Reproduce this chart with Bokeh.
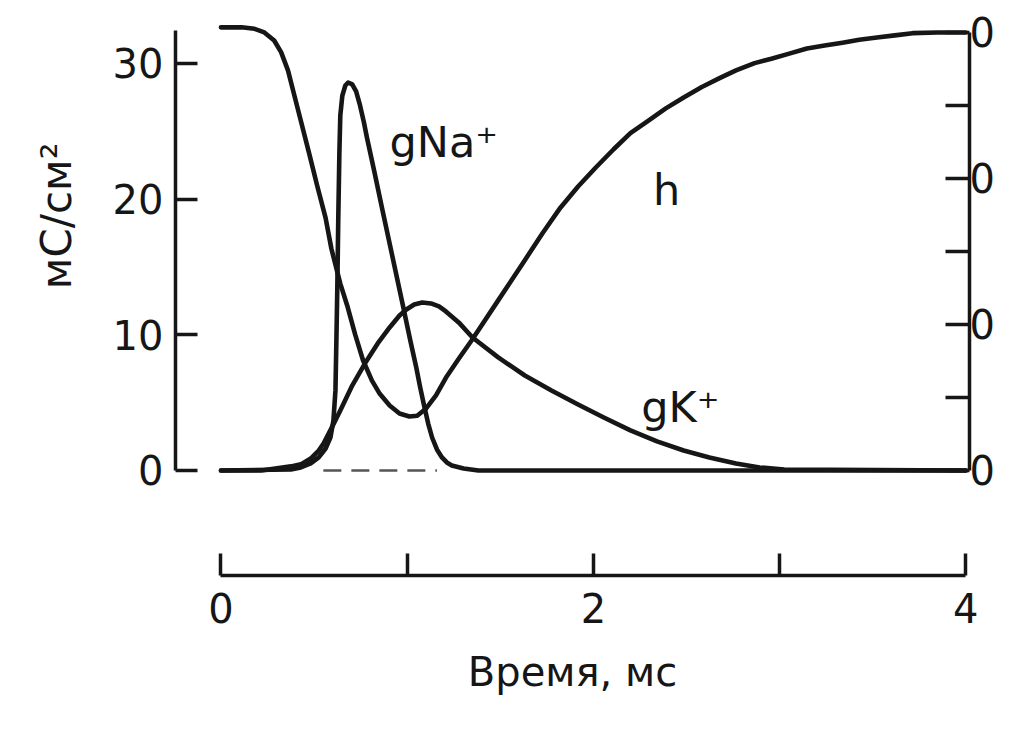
from bokeh.plotting import figure
from bokeh.models import Range1d, LinearAxis, FixedTicker, Title
from bokeh.core.properties import value
from bokeh.embed import file_html
from bokeh.resources import INLINE

# ---- data (time in ms) ----
gna_t = [0.0, 0.376, 0.429, 0.482, 0.525, 0.562, 0.588, 0.604, 0.615, 0.620, 0.625,
         0.630, 0.636, 0.641, 0.652, 0.668, 0.683, 0.705, 0.726, 0.747, 0.768, 0.784,
         0.826, 0.869, 0.922, 0.975, 1.017, 1.049, 1.070, 1.091, 1.113, 1.134, 1.160,
         1.187, 1.213, 1.240, 1.303, 1.383, 4.0]
gna_v = [0.0, 0.07, 0.22, 0.52, 0.96, 1.62, 2.43, 3.68, 5.90, 9.58, 13.49,
         18.42, 23.36, 26.16, 27.63, 28.37, 28.59, 28.45, 27.93, 26.90, 25.64, 24.54,
         21.89, 19.09, 15.70, 12.31, 9.58, 7.59, 6.12, 4.79, 3.46, 2.43, 1.55,
         0.96, 0.59, 0.37, 0.15, 0.0, 0.0]

gk_t = [0.0, 0.217, 0.376, 0.429, 0.482, 0.525, 0.551, 0.593, 0.641, 0.705, 0.773,
        0.842, 0.906, 0.959, 0.996, 1.038, 1.081, 1.128, 1.171, 1.208, 1.277, 1.351,
        1.489, 1.632, 1.775, 1.918, 2.056, 2.199, 2.342, 2.485, 2.623, 2.766, 2.893,
        3.025, 4.0]
gk_v = [0.0, 0.0, 0.3, 0.45, 0.88, 1.47, 1.99, 3.10, 4.42, 6.26, 7.88,
        9.36, 10.54, 11.42, 11.86, 12.23, 12.38, 12.31, 12.09, 11.72, 10.91, 9.80,
        8.33, 7.00, 5.90, 4.86, 3.90, 2.95, 2.14, 1.47, 0.96, 0.52, 0.22,
        0.07, 0.0]

h_t = [0.0, 0.111, 0.180, 0.233, 0.286, 0.323, 0.360, 0.392, 0.429, 0.472, 0.519,
       0.562, 0.593, 0.641, 0.678, 0.721, 0.763, 0.811, 0.853, 0.906, 0.959, 1.012,
       1.054, 1.102, 1.155, 1.208, 1.277, 1.346, 1.489, 1.632, 1.727, 1.823, 1.918,
       2.013, 2.109, 2.199, 2.294, 2.389, 2.485, 2.580, 2.675, 2.766, 2.866, 2.956,
       3.052, 3.147, 3.242, 3.338, 3.428, 3.523, 3.619, 3.714, 3.846, 4.0]
h_v = [0.607, 0.607, 0.605, 0.600, 0.589, 0.573, 0.548, 0.516, 0.479, 0.436, 0.388,
       0.346, 0.304, 0.256, 0.226, 0.186, 0.151, 0.123, 0.105, 0.089, 0.078, 0.074,
       0.075, 0.085, 0.103, 0.127, 0.153, 0.178, 0.233, 0.288, 0.325, 0.360, 0.389,
       0.415, 0.440, 0.462, 0.479, 0.496, 0.511, 0.525, 0.537, 0.548, 0.558, 0.564,
       0.571, 0.578, 0.582, 0.586, 0.590, 0.593, 0.596, 0.599, 0.600, 0.600]

dash_t = [0.55, 1.16]
dash_v = [0.0, 0.0]

x_ticks = [0, 2, 4]
x_minor = [1, 3]
g_ticks = [0, 10, 20, 30]
h_ticks = [0, 0.2, 0.4, 0.6]
h_minor = [0.1, 0.3, 0.5]
h_tick_labels = ["0", "0", "0", "0"]   # labels as visible (cropped) in the source

labels_text = ["gNa\u207a", "h", "gK\u207a"]
labels_t = [0.905, 2.32, 2.257]
labels_v = [24.2, 20.7, 4.7]

x_label = "Время, мс"
y_label = "мС/см²"

# ---- styling ----
INK = "#161616"
FONT = "DejaVu Sans"
TICK_FS = "40px"

y0, y1 = -7.74, 33.16
k = 0.6 / 32.28

p = figure(width=997, height=719, output_backend="svg", toolbar_location=None,
           x_range=Range1d(-0.244, 4.02), y_range=Range1d(y0, y1),
           min_border_left=173, min_border_top=20, min_border_bottom=144,
           min_border_right=0)
p.extra_y_ranges = {"h": Range1d(y0 * k, y1 * k)}
p.xgrid.visible = False
p.ygrid.visible = False
p.outline_line_color = None
p.background_fill_color = "white"
p.border_fill_color = "white"

def style_axis(ax, tick_len):
    ax.axis_line_width = 3.5
    ax.axis_line_color = INK
    ax.major_tick_line_width = 3.5
    ax.major_tick_line_color = INK
    ax.minor_tick_line_width = 3.5
    ax.minor_tick_line_color = INK
    ax.major_tick_in = tick_len
    ax.major_tick_out = 0
    ax.minor_tick_in = tick_len
    ax.minor_tick_out = 0
    ax.major_label_text_font = FONT
    ax.major_label_text_font_size = TICK_FS
    ax.major_label_text_color = INK

xa = p.xaxis[0]
xa.ticker = FixedTicker(ticks=x_ticks, minor_ticks=x_minor)
xa.bounds = (0, 4)
style_axis(xa, 22)
xa.major_label_standoff = 17
xa.axis_label = x_label
xa.axis_label_text_font = FONT
xa.axis_label_text_font_size = "40px"
xa.axis_label_text_font_style = "normal"
xa.axis_label_text_color = INK
xa.axis_label_standoff = 23

ya = p.yaxis[0]
ya.ticker = FixedTicker(ticks=g_ticks, minor_ticks=[])
ya.bounds = (0, 32.4)
style_axis(ya, 22)
ya.major_label_standoff = 12

ra = LinearAxis(y_range_name="h", ticker=FixedTicker(ticks=h_ticks, minor_ticks=h_minor),
                bounds=(0, 0.6))
style_axis(ra, 24)
ra.major_label_standoff = 0
ra.major_label_overrides = {t: s for t, s in zip(h_ticks, h_tick_labels)}
p.add_layout(ra, "right")

# rotated y-axis title placed in the left border
p.add_layout(Title(text=y_label, align="right", offset=122, vertical_align="bottom",
                   standoff=58, text_font=FONT, text_font_size="42px",
                   text_font_style="normal", text_color=INK), "left")

# ---- curves ----
LW = 4.6
p.line(dash_t, dash_v, line_width=2.5, line_color="#555555", line_dash="18 10")
p.line(gna_t, gna_v, line_width=LW, line_color=INK, line_join="round", line_cap="round")
p.line(gk_t, gk_v, line_width=LW, line_color=INK, line_join="round", line_cap="round")
p.line(h_t, h_v, line_width=LW, line_color=INK, line_join="round", line_cap="round",
       y_range_name="h")

# ---- curve labels ----
p.text(x=labels_t, y=labels_v, text=labels_text,
       text_font=value(FONT), text_font_size=value("43px"), text_color=INK,
       text_align="left", text_baseline="alphabetic")

open("out.html", "w").write(file_html(p, INLINE))
